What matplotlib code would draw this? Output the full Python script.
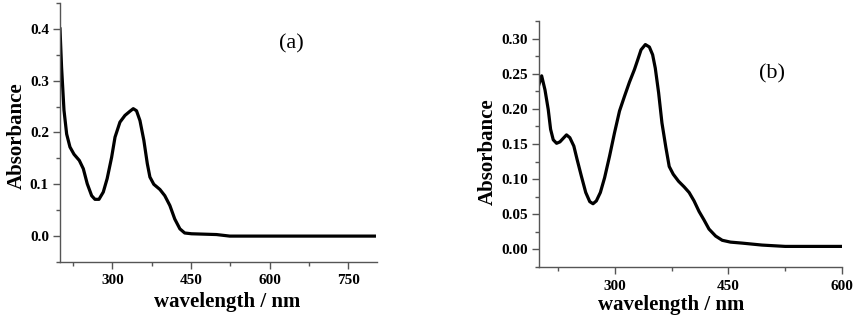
import numpy as np
import matplotlib.pyplot as plt
from matplotlib.ticker import MultipleLocator, FormatStrFormatter

# panel (a) spectrum
wl_a = [200, 203, 207.6, 212.7, 219, 226.7, 236.9, 244.5, 252, 260.4, 266.7, 274.4,
        282.6, 290, 298.5, 305, 314.4, 324, 333.5, 339.8, 346, 352.6, 360, 366.6,
        371.6, 379, 390.7, 400, 409.7, 419, 428.8, 438, 451, 498.7, 524, 800]
abs_a = [0.400, 0.326, 0.243, 0.197, 0.172, 0.158, 0.146, 0.130, 0.101, 0.078, 0.071, 0.071,
         0.085, 0.111, 0.152, 0.191, 0.220, 0.233, 0.241, 0.246, 0.242, 0.223, 0.185, 0.140,
         0.114, 0.100, 0.090, 0.078, 0.059, 0.033, 0.014, 0.006, 0.0045, 0.003, 0.0, 0.0]

# panel (b) spectrum
wl_b = [200, 203.5, 207.9, 212.2, 215.3, 218.8, 223.2, 227.6, 232.8, 236.3, 240.7, 246,
        250.3, 256, 261.7, 267, 271.3, 275.7, 281, 286.6, 293.2, 299.7, 306.3, 312.9,
        319.4, 326, 330.4, 334.7, 340.4, 345.7, 350, 353.5, 357.9, 362.3, 367.5, 371.9,
        377.2, 384.2, 391.6, 398.2, 404.7, 411.3, 417.8, 424.4, 433.2, 441.9, 452.8,
        468, 494.4, 525, 600]
abs_b = [0.235, 0.247, 0.227, 0.199, 0.171, 0.156, 0.151, 0.153, 0.159, 0.163, 0.159, 0.147,
         0.128, 0.104, 0.081, 0.068, 0.065, 0.069, 0.081, 0.102, 0.133, 0.166, 0.197, 0.218,
         0.238, 0.256, 0.270, 0.284, 0.2915, 0.288, 0.277, 0.258, 0.223, 0.180, 0.145, 0.118,
         0.107, 0.097, 0.089, 0.081, 0.069, 0.054, 0.042, 0.029, 0.019, 0.013, 0.0104,
         0.009, 0.0062, 0.0043, 0.0043]

plt.rcParams['font.family'] = ['Liberation Serif', 'DejaVu Serif']

W, H = 861, 321
fig = plt.figure(figsize=(W / 100, H / 100), dpi=100)


def px_axes(left, top, right, bottom):
    return fig.add_axes([left / W, 1 - bottom / H, (right - left) / W, (bottom - top) / H])


def style(ax, ymajor, yminor, fmt):
    for s in ['top', 'right']:
        ax.spines[s].set_visible(False)
    for s in ['left', 'bottom']:
        ax.spines[s].set_color('#555555')
        ax.spines[s].set_linewidth(1.0)
    ax.xaxis.set_major_locator(MultipleLocator(150))
    ax.xaxis.set_minor_locator(MultipleLocator(75))
    ax.yaxis.set_major_locator(MultipleLocator(ymajor))
    ax.yaxis.set_minor_locator(MultipleLocator(yminor))
    ax.yaxis.set_major_formatter(FormatStrFormatter(fmt))
    ax.tick_params(which='major', direction='out', length=5, width=1, color='#555555',
                   labelsize=11, pad=3)
    ax.tick_params(which='minor', direction='out', length=3, width=1, color='#555555')
    ax.tick_params(axis='x', pad=4)
    for lab in ax.get_xticklabels() + ax.get_yticklabels():
        lab.set_fontweight('bold')


ax1 = px_axes(60, 3, 377, 262)
ax1.plot(wl_a, abs_a, color='black', lw=2.3, solid_joinstyle='round')
ax1.set_xlim(200, 805)
ax1.set_ylim(-0.05, 0.45)
style(ax1, 0.1, 0.05, '%.1f')
ax1.text(642, 0.372, '(a)', fontsize=16, ha='center', va='center')

ax2 = px_axes(539, 21, 842, 267)
ax2.plot(wl_b, abs_b, color='black', lw=2.3, solid_joinstyle='round')
ax2.set_xlim(200, 600)
ax2.set_ylim(-0.025, 0.325)
style(ax2, 0.05, 0.025, '%.2f')
ax2.text(507, 0.25, '(b)', fontsize=16, ha='center', va='center')

fig.text(227 / W, 1 - 302 / H, 'wavelength / nm', fontsize=15, fontweight='bold',
         ha='center', va='center')
fig.text(17 / W, 1 - 136 / H, 'Absorbance', fontsize=15, fontweight='bold',
         ha='center', va='center', rotation=90)
fig.text(671 / W, 1 - 305 / H, 'wavelength / nm', fontsize=15, fontweight='bold',
         ha='center', va='center')
fig.text(488 / W, 1 - 152 / H, 'Absorbance', fontsize=15, fontweight='bold',
         ha='center', va='center', rotation=90)

fig.savefig('out.png', dpi=100)
